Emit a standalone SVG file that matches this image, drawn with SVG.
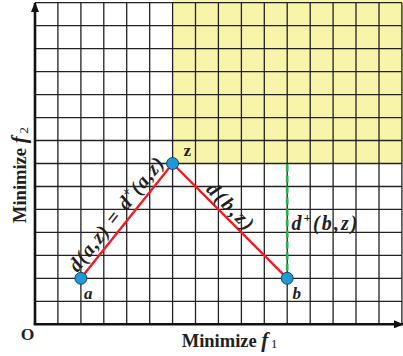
<svg xmlns="http://www.w3.org/2000/svg" width="403" height="356" viewBox="0 0 403 356">
<defs>
<style>
.grid{fill:none;stroke:#222;stroke-width:1.3}
.axis{fill:none;stroke:#111;stroke-width:2.6}
.red{fill:none;stroke:#ee1c24;stroke-width:2.4}
.green{fill:none;stroke:#27b34b;stroke-width:2.7;stroke-dasharray:7 4}
.pt{fill:#1d9ad6;stroke:#173a55;stroke-width:0.9}
.lbl{font-family:"Liberation Serif","Times New Roman",serif;font-weight:bold;fill:#231f20}
.it{font-style:italic}
</style>
<marker id="arr" viewBox="0 0 10 8" refX="9" refY="4" markerWidth="10" markerHeight="8" markerUnits="userSpaceOnUse" orient="auto">
<path d="M0,0 L10,4 L0,8 Z" fill="#111"/>
</marker>
</defs>
<rect width="403" height="356" fill="#fff"/>
<rect x="172.6" y="0" width="230.4" height="163.5" fill="#f8f4aa"/>
<g id="grid">
<path class="grid" d="M57.9,2.7V324.3M80.9,2.7V324.3M103.8,2.7V324.3M126.7,2.7V324.3M149.7,2.7V324.3M172.6,2.7V324.3M195.5,2.7V324.3M218.4,2.7V324.3M241.4,2.7V324.3M264.3,2.7V324.3M287.2,2.7V324.3M310.2,2.7V324.3M333.1,2.7V324.3M356,2.7V324.3M379,2.7V324.3M401.9,2.7V324.3"/>
<path class="grid" d="M35,2.7H401.9M35,25.7H401.9M35,48.6H401.9M35,71.6H401.9M35,94.6H401.9M35,117.6H401.9M35,140.5H401.9M35,163.5H401.9M35,186.5H401.9M35,209.4H401.9M35,232.4H401.9M35,255.4H401.9M35,278.3H401.9M35,301.3H401.9"/>
</g>
<g id="axes">
<path class="axis" d="M35,324.3V3" marker-end="url(#arr)"/>
<path class="axis" d="M33.7,324.3H403" marker-end="url(#arr)"/>
</g>
<g id="connectors">
<path class="red" d="M80.9,278.3L172.6,163.5L287.2,278.3"/>
<path class="green" d="M287.2,164.5V272"/>
</g>
<g id="node-a">
<circle class="pt" cx="80.9" cy="278.3" r="6"/>
<text class="lbl it" x="84" y="298.5" font-size="17">a</text>
</g>
<g id="node-z">
<circle class="pt" cx="172.6" cy="163.5" r="6"/>
<text class="lbl" x="183.5" y="156" font-size="17">z</text>
</g>
<g id="node-b">
<circle class="pt" cx="287.2" cy="278.3" r="6"/>
<text class="lbl it" x="292.5" y="298.5" font-size="17">b</text>
</g>
<g id="labels">
<text class="lbl it" transform="translate(80.9,278.3) rotate(-51.4)" x="2" y="-6" font-size="20" textLength="140" lengthAdjust="spacing">d(a,z) = d<tspan font-size="13" dy="-8">+</tspan><tspan dy="8">(a,z)</tspan></text>
<text class="lbl it" transform="translate(172.6,163.5) rotate(45)" x="42" y="-4" font-size="20" textLength="58" lengthAdjust="spacing">d(b,z)</text>
<text class="lbl it" x="291.5" y="230" font-size="20" textLength="66" lengthAdjust="spacing">d<tspan font-size="13" dy="-8">+</tspan><tspan dy="8">(b,z)</tspan></text>
<text class="lbl" x="20.7" y="340" font-size="17.5">O</text>
<text class="lbl" x="181.7" y="346.7" font-size="18.5">Minimize <tspan class="it" font-size="21">f</tspan><tspan font-size="13.5" font-weight="normal" dx="2.5" dy="1.5">1</tspan></text>
<text class="lbl" transform="translate(26,223) rotate(-90)" x="0" y="0" font-size="18.5">Minimize <tspan class="it" font-size="21">f</tspan><tspan font-size="13.5" font-weight="normal" dx="2.5" dy="1.5">2</tspan></text>
</g>
</svg>
